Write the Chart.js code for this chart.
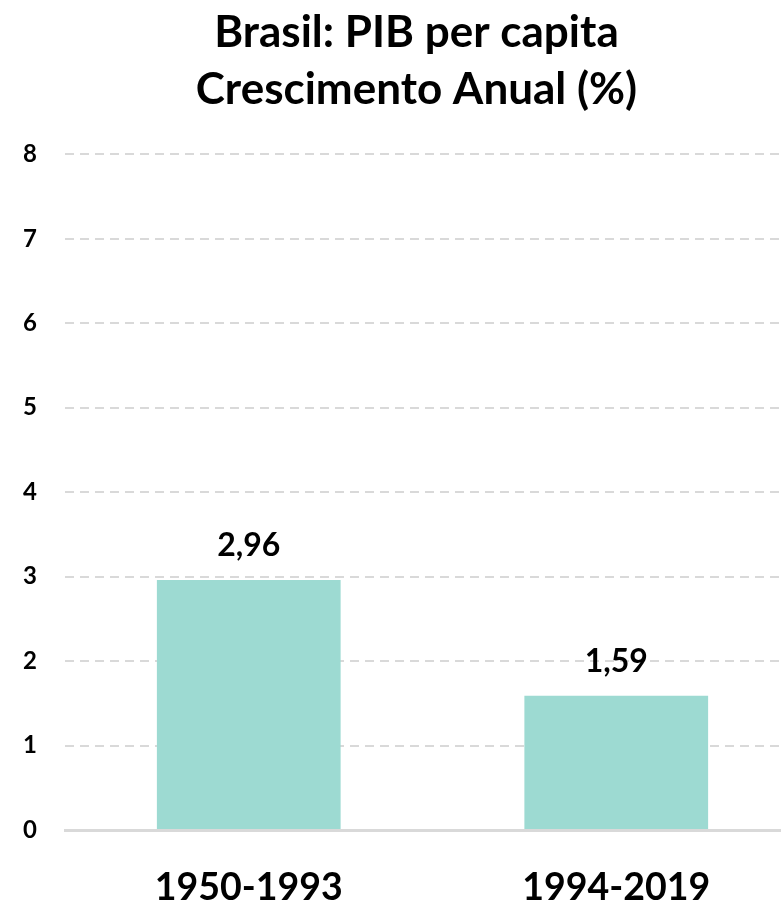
<!DOCTYPE html>
<html>
<head>
<meta charset="utf-8">
<script src="https://cdn.jsdelivr.net/npm/chart.js@4"></script>
<style>
  html, body { margin: 0; padding: 0; background: #fff; overflow: hidden; }
  #wrap { width: 800px; height: 908px; }
</style>
</head>
<body>
<div id="wrap"><canvas id="myChart"></canvas></div>
<script>
// dados do gráfico
let periods = ["1950-1993", "1994-2019"];
let growth = [2.96, 1.59];
let yTicks = [0, 1, 2, 3, 4, 5, 6, 7, 8];

let fontName = "Lato, 'Open Sans', sans-serif";

// rótulos em cima das barras
let valueLabels = {
    id: "valueLabels",
    afterDatasetsDraw(chart) {
        let ctx = chart.ctx;
        let meta = chart.getDatasetMeta(0);
        ctx.save();
        ctx.font = "bold 32px " + fontName;
        ctx.fillStyle = "#000";
        ctx.textAlign = "center";
        ctx.textBaseline = "middle";
        meta.data.forEach(function (bar, i) {
            ctx.fillText(growth[i].toFixed(2).replace(".", ","), bar.x, bar.y - 34);
        });
        ctx.restore();
    }
};

// puxa o título um pouco para a esquerda
let titleShift = {
    id: "titleShift",
    afterLayout(chart) {
        if (chart.titleBlock) {
            chart.titleBlock.left -= 16;
            chart.titleBlock.right -= 16;
        }
    }
};

var myChart = new Chart(document.getElementById("myChart"), {
    type: "bar",
    data: {
        labels: periods,
        datasets: [{
            data: growth,
            backgroundColor: "#9ddad2",
            barPercentage: 0.5,
            categoryPercentage: 1
        }]
    },
    options: {
        responsive: true,
        maintainAspectRatio: false,
        animation: false,
        layout: { padding: { top: 4, left: 0, bottom: 0, right: 0 } },
        plugins: {
            legend: { display: false },
            tooltip: { enabled: false },
            title: {
                display: true,
                text: ["Brasil: PIB per capita", "Crescimento Anual (%)"],
                color: "#000",
                font: { family: fontName, size: 44, weight: "bold", lineHeight: 1.3 },
                padding: { top: 0, bottom: 36 },
                fullSize: false
            }
        },
        scales: {
            x: {
                afterFit(scale) { scale.height = 78; },
                grid: { display: false },
                border: { display: true, color: "#d9d9d9", width: 3 },
                ticks: {
                    color: "#000",
                    font: { family: fontName, size: 37.5, weight: "bold" },
                    padding: 27
                }
            },
            y: {
                min: 0,
                max: 8,
                afterFit(scale) { scale.width = 65; },
                afterBuildTicks(scale) {
                    scale.ticks = yTicks.map(v => ({ value: v }));
                },
                grid: { color: "#d9d9d9", lineWidth: 2, drawTicks: false },
                border: { display: false, dash: [9, 6] },
                ticks: {
                    color: "#000",
                    font: { family: fontName, size: 24, weight: "bold" },
                    padding: 28
                }
            }
        }
    },
    plugins: [valueLabels, titleShift]
});
</script>
</body>
</html>
